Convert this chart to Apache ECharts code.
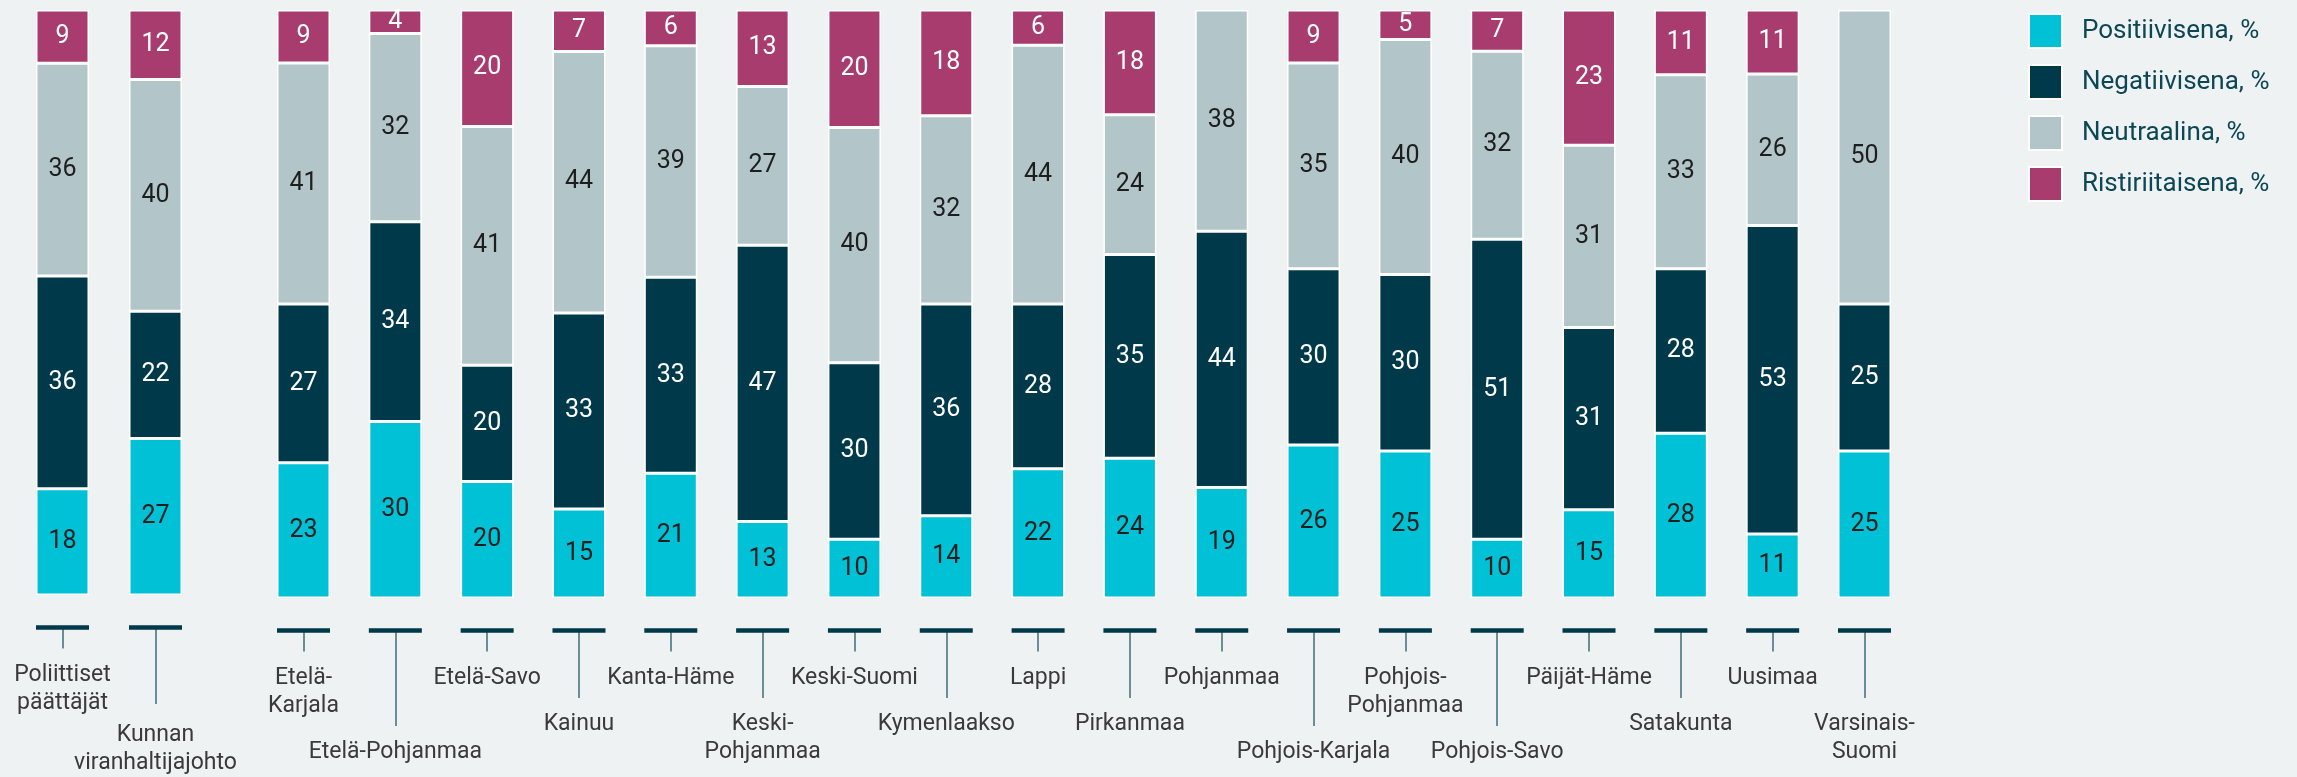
<!DOCTYPE html>
<html>
<head>
<meta charset="utf-8">
<script src="https://cdn.jsdelivr.net/npm/echarts@6/dist/echarts.min.js"></script>
<style>
  html, body { margin: 0; padding: 0; background: #eef2f3; }
  #chart { width: 2297px; height: 777px; }
</style>
</head>
<body>
<div id="chart"></div>
<script>
// categories
const groupNames = ['Poliittiset\npäättäjät', 'Kunnan\nviranhaltijajohto'];
const regionNames = ['Etelä-\nKarjala', 'Etelä-Pohjanmaa', 'Etelä-Savo', 'Kainuu', 'Kanta-Häme',
  'Keski-\nPohjanmaa', 'Keski-Suomi', 'Kymenlaakso', 'Lappi', 'Pirkanmaa', 'Pohjanmaa',
  'Pohjois-Karjala', 'Pohjois-\nPohjanmaa', 'Pohjois-Savo', 'Päijät-Häme', 'Satakunta',
  'Uusimaa', 'Varsinais-\nSuomi'];
const seriesNames = ['Positiivisena, %', 'Negatiivisena, %', 'Neutraalina, %', 'Ristiriitaisena, %'];

// values, %
const groupPositive = [18, 27];
const groupNegative = [36, 22];
const groupNeutral  = [36, 40];
const groupMixed    = [9, 12];

const regionPositive = [23, 30, 20, 15, 21, 13, 10, 14, 22, 24, 19, 26, 25, 10, 15, 28, 11, 25];
const regionNegative = [27, 34, 20, 33, 33, 47, 30, 36, 28, 35, 44, 30, 30, 51, 31, 28, 53, 25];
const regionNeutral  = [41, 32, 41, 44, 39, 27, 40, 32, 44, 24, 38, 35, 40, 32, 31, 33, 26, 50];
const regionMixed    = [9, 4, 20, 7, 6, 13, 20, 18, 6, 18, 0, 9, 5, 7, 23, 11, 11, 0];

const colors = ['#00c1d5', '#003a4a', '#b2c6ca', '#a93c6e'];
const labelColors = ['#1e1e1e', '#ffffff', '#1e1e1e', '#ffffff'];
const font = 'Roboto';
const barWidth = 53;

// label rows under the bars: tick length and label distance from the axis
const levels = [
  { tick: 21.5, margin: 34 },   // upper row
  { tick: 68, margin: 80 },     // lower row
  { tick: 96, margin: 108 },    // lower row, pushed down by a two-line neighbour
  { tick: 77, margin: 94 }      // lower row of the first group
];
const twoLines = s => !!s && s.indexOf('\n') >= 0;
const groupLevel = i => (i === 0 ? 0 : 3);
const regionLevel = i => {
  if (i % 2 === 0) return 0;
  return twoLines(regionNames[i - 1]) || twoLines(regionNames[i + 1]) ? 2 : 1;
};

const grids = [
  { left: 16, top: 10, width: 186, bottom: 179 },
  { left: 257.6, top: 10, width: 1652.8, bottom: 179 }
];

function lineAxis(gridIndex, names) {
  const cat = grids[gridIndex].width / names.length;
  const gap = cat - barWidth;
  return {
    type: 'category', gridIndex, data: names, position: 'bottom', offset: 32, z: 5,
    axisLine: { show: true, onZero: false,
      lineStyle: { color: '#003a4a', width: 4.5, cap: 'butt', type: [barWidth, gap], dashOffset: barWidth + gap / 2 } },
    axisTick: { show: false }, axisLabel: { show: false }, splitLine: { show: false }
  };
}

function levelAxis(gridIndex, names, levelFn, lv) {
  const pick = i => levelFn(i) === lv;
  return {
    type: 'category', gridIndex, data: names, position: 'bottom', offset: 32, z: 2,
    axisLine: { show: false, onZero: false },
    axisTick: { show: true, alignWithLabel: true, length: levels[lv].tick, interval: pick,
      lineStyle: { color: '#6a8e98', width: 2 } },
    axisLabel: { show: true, interval: pick, margin: levels[lv].margin, color: '#3a3a3a',
      fontFamily: font, fontSize: 23, lineHeight: 28, align: 'center' },
    splitLine: { show: false }
  };
}

const xAxes = [
  lineAxis(0, groupNames),
  levelAxis(0, groupNames, groupLevel, 0),
  levelAxis(0, groupNames, groupLevel, 3),
  lineAxis(1, regionNames),
  levelAxis(1, regionNames, regionLevel, 0),
  levelAxis(1, regionNames, regionLevel, 1),
  levelAxis(1, regionNames, regionLevel, 2)
];

const yAxes = [0, 1].map(g => ({ type: 'value', gridIndex: g, min: 0, max: 100, show: false }));

function makeSeries(rows, k, gridIndex, xAxisIndex) {
  const raw = rows[k];
  const totals = raw.map((_, i) => rows.reduce((s, r) => s + r[i], 0));
  return {
    name: seriesNames[k], type: 'bar', stack: 'stack' + gridIndex,
    xAxisIndex, yAxisIndex: gridIndex, barWidth,
    itemStyle: { color: colors[k], borderColor: '#ffffff', borderWidth: 1.5 },
    label: { show: true, position: 'inside', color: labelColors[k], fontFamily: font, fontSize: 25,
      formatter: p => (raw[p.dataIndex] ? String(raw[p.dataIndex]) : '') },
    emphasis: { disabled: true },
    data: raw.map((v, i) => (v ? v / totals[i] * 100 : '-'))
  };
}

const groupRows = [groupPositive, groupNegative, groupNeutral, groupMixed];
const regionRows = [regionPositive, regionNegative, regionNeutral, regionMixed];
const series = [];
for (let k = 0; k < 4; k++) series.push(makeSeries(groupRows, k, 0, 0));
for (let k = 0; k < 4; k++) series.push(makeSeries(regionRows, k, 1, 3));

const chart = echarts.init(document.getElementById('chart'));
chart.setOption({
  backgroundColor: '#eef2f3',
  animation: false,
  grid: grids,
  xAxis: xAxes,
  yAxis: yAxes,
  legend: {
    data: seriesNames, orient: 'vertical', left: 2023, top: 8,
    icon: 'rect', itemWidth: 33, itemHeight: 34, itemGap: 15,
    selectedMode: false,
    textStyle: { color: '#0d4654', fontFamily: font, fontSize: 26, padding: [0, 0, 0, 15] }
  },
  series
});
</script>
</body>
</html>
